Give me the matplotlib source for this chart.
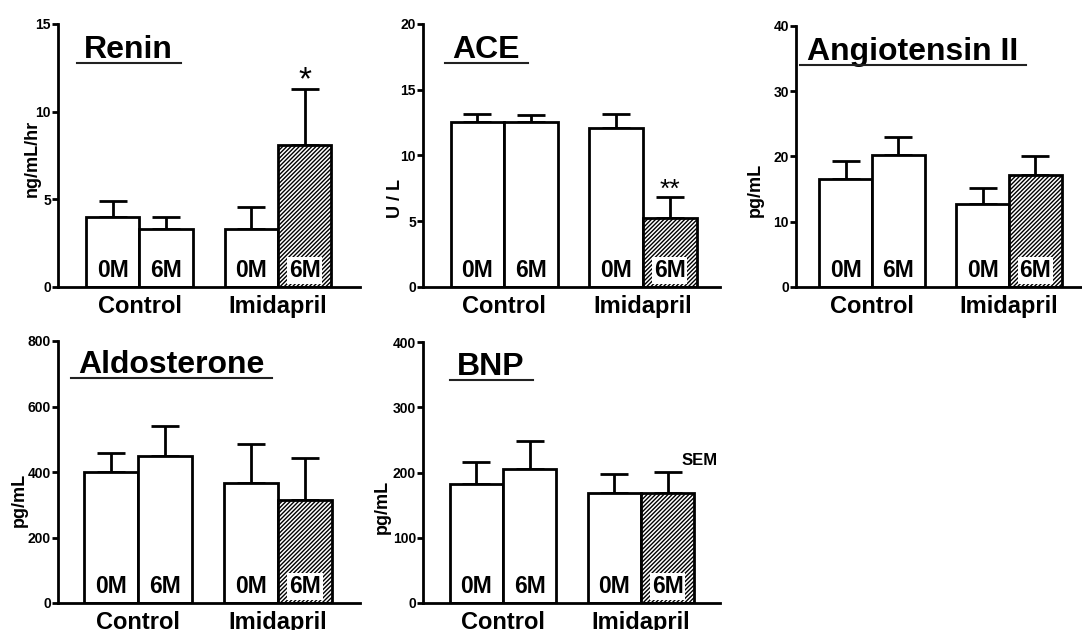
import matplotlib
matplotlib.use("Agg")
import matplotlib.pyplot as plt
from matplotlib.lines import Line2D
import numpy as np

plt.rcParams['font.family'] = ['Liberation Sans', 'DejaVu Sans']
plt.rcParams['hatch.linewidth'] = 1.0

# ---------------- data ----------------
groups = ['Control', 'Imidapril']
bar_labels = ['0M', '6M', '0M', '6M']
titles = ['Renin', 'ACE', 'Angiotensin II', 'Aldosterone', 'BNP']
ylabels = ['ng/mL/hr', 'U / L', 'pg/mL', 'pg/mL', 'pg/mL']

renin_mean = [4.0, 3.3, 3.3, 8.1]
renin_sem = [0.9, 0.7, 1.26, 3.17]
ace_mean = [12.57, 12.57, 12.07, 5.22]
ace_sem = [0.6, 0.5, 1.1, 1.6]
ang_mean = [16.6, 20.2, 12.7, 17.2]
ang_sem = [2.7, 2.8, 2.4, 2.8]
aldo_mean = [400, 450, 367, 313]
aldo_sem = [58, 89, 120, 130]
bnp_mean = [183, 205, 168, 168]
bnp_sem = [33, 44, 29, 33]

renin_ticks = [0, 5, 10, 15]
ace_ticks = [0, 5, 10, 15, 20]
ang_ticks = [0, 10, 20, 30, 40]
aldo_ticks = [0, 200, 400, 600, 800]
bnp_ticks = [0, 100, 200, 300, 400]

renin_sig = ['', '', '', '*']
ace_sig = ['', '', '', '**']
ang_sig = ['', '', '', '']
aldo_sig = ['', '', '', '']
bnp_sig = ['', '', '', '']

means = [renin_mean, ace_mean, ang_mean, aldo_mean, bnp_mean]
sems = [renin_sem, ace_sem, ang_sem, aldo_sem, bnp_sem]
ticks = [renin_ticks, ace_ticks, ang_ticks, aldo_ticks, bnp_ticks]
sigs = [renin_sig, ace_sig, ang_sig, aldo_sig, bnp_sig]

# ---------------- layout (pixels) ----------------
W, H = 1082, 630
# left, right, top, bottom of each axes in pixels
boxes = [(58, 360, 24, 287), (423, 720, 24, 287), (796, 1082, 26, 287),
         (58, 360, 341, 603), (423, 720, 342, 603)]
xlims = [(-0.588, 1.592), (-0.583, 1.554), (-0.555, 1.533),
         (-0.571, 1.586), (-0.580, 1.572)]
title_pos = [(84, 58), (452, 58), (807, 60), (78, 373), (457, 375)]
ylabel_pos = [(32, 158), (396, 199), (755, 190), (19, 500), (382, 507)]
sig_size = {'*': 24, '**': 19}

fig = plt.figure(figsize=(W / 100, H / 100), dpi=100)

bw = 0.385
offs = [-bw / 2, bw / 2]
hatches = [None, None, None, '////////']

titles_txt = []
for i in range(5):
    l, r, t, b = boxes[i]
    ax = fig.add_axes([l / W, 1 - b / H, (r - l) / W, (b - t) / H])
    ax.patch.set_alpha(0)
    xs = [g + o for g in range(2) for o in offs]
    bars = ax.bar(xs, means[i], width=bw, color='white', edgecolor='black',
                  linewidth=2, zorder=2)
    for bar, h in zip(bars, hatches):
        if h:
            bar.set_hatch(h)
    ax.errorbar(xs, means[i], yerr=[np.zeros(4), sems[i]], fmt='none',
                ecolor='black', elinewidth=2, capsize=10, capthick=2, zorder=1)
    ax.set_xlim(*xlims[i])
    ax.set_ylim(ticks[i][0], ticks[i][-1])
    ax.set_yticks(ticks[i])
    ax.set_xticks([0, 1])
    ax.set_xticklabels(groups, fontsize=17, fontweight='bold')
    for lab in ax.get_yticklabels():
        lab.set_fontweight('bold')
    ax.tick_params(axis='y', length=4, width=2, direction='out', pad=1,
                   labelsize=10)
    ax.tick_params(axis='x', length=0, pad=6)
    for s in ['top', 'right']:
        ax.spines[s].set_visible(False)
    for s in ['left', 'bottom']:
        ax.spines[s].set_linewidth(2)

    # bar labels
    for j, (x, lbl) in enumerate(zip(xs, bar_labels)):
        kw = {}
        if hatches[j]:
            kw['bbox'] = dict(boxstyle='square,pad=0.08', fc='white', ec='none')
        ax.annotate(lbl, xy=(x, 0), xytext=(0, 7), textcoords='offset points',
                    ha='center', va='baseline', fontsize=16.5, fontweight='bold',
                    zorder=4, **kw)
        s = sigs[i][j]
        if s:
            ax.annotate(s, xy=(x, means[i][j] + sems[i][j]), xytext=(0, 0),
                        textcoords='offset points', ha='center', va='baseline',
                        fontsize=sig_size[s])

    # y label
    ax.set_ylabel(ylabels[i], fontsize=13, fontweight='bold', va='center')
    lx, ly = ylabel_pos[i]
    ax.yaxis.set_label_coords((lx - l) / (r - l), (b - ly) / (b - t))

    # title
    tx, ty = title_pos[i]
    tt = ax.text((tx - l) / (r - l), (b - ty) / (b - t), titles[i],
                 transform=ax.transAxes, ha='left', va='baseline',
                 fontsize=23, fontweight='bold')
    titles_txt.append((tt, ty))

    if i == 4:
        ax.text((682 - l) / (r - l), (b - 465) / (b - t), 'SEM',
                transform=ax.transAxes, ha='left', va='baseline',
                fontsize=12, fontweight='bold', clip_on=False)

# underlines under titles
fig.canvas.draw()
rend = fig.canvas.get_renderer()
for tt, ty in titles_txt:
    bb = tt.get_window_extent(rend)
    yb = (H - ty - 5)
    line = Line2D([(bb.x0 - 7) / W, (bb.x1 + 8) / W], [yb / H, yb / H],
                  transform=fig.transFigure, color='#222222', linewidth=1.5)
    fig.add_artist(line)

fig.savefig('out.png', dpi=100)
